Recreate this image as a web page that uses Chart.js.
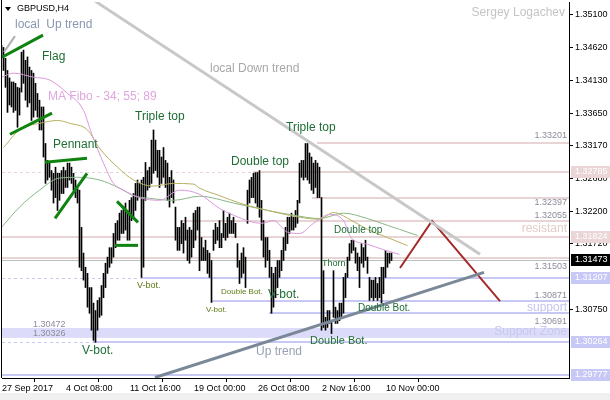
<!DOCTYPE html>
<html>
<head>
<meta charset="utf-8">
<script src="https://cdn.jsdelivr.net/npm/chart.js@4.4.1/dist/chart.umd.min.js"></script>
<style>
html, body { margin: 0; padding: 0; background: #fff; }
</style>
</head>
<body>
<canvas id="chart" width="610" height="400"></canvas>
<script>
// H4 bars, high / low
const highs = [
  1.3465,1.3462,1.3446,1.3428,1.3417,1.3411,1.3411,1.3409,1.3403,1.3402,
  1.3455,1.3458,1.3443,1.3448,1.3433,1.3428,1.3424,1.3409,1.3394,1.3384,
  1.3374,1.3374,1.3320,1.3295,1.3291,1.3280,1.3276,1.3285,1.3276,1.3276,
  1.3280,1.3285,1.3280,1.3291,1.3291,1.3285,1.3276,1.3266,1.3255,1.3251,
  1.3196,1.3158,1.3137,1.3128,1.3107,1.3107,1.3084,1.3073,1.3088,1.3092,
  1.3110,1.3128,1.3143,1.3152,1.3166,1.3166,1.3187,1.3202,1.3206,1.3217,
  1.3221,1.3226,1.3232,1.3221,1.3236,1.3240,1.3246,1.3261,1.3266,1.3261,
  1.3266,1.3270,1.3292,1.3280,1.3285,1.3325,1.3340,1.3325,1.3310,1.3310,
  1.3300,1.3314,1.3295,1.3291,1.3270,1.3280,1.3266,1.3226,1.3196,1.3196,
  1.3206,1.3202,1.3211,1.3192,1.3196,1.3192,1.3217,1.3221,1.3226,1.3226,
  1.3181,1.3166,1.3177,1.3162,1.3158,1.3147,1.3192,1.3202,1.3196,1.3206,
  1.3187,1.3221,1.3202,1.3211,1.3217,1.3206,1.3211,1.3202,1.3172,1.3147,
  1.3158,1.3166,1.3152,1.3251,1.3266,1.3270,1.3276,1.3277,1.3277,1.3280,
  1.3236,1.3206,1.3181,1.3181,1.3162,1.3137,1.3128,1.3137,1.3147,1.3147,
  1.3162,1.3181,1.3196,1.3211,1.3211,1.3217,1.3211,1.3221,1.3236,1.3291,
  1.3295,1.3295,1.3320,1.3320,1.3306,1.3300,1.3291,1.3295,1.3291,1.3285,
  1.3240,1.3132,1.3063,1.3073,1.3073,1.3058,1.3132,1.3078,1.3073,1.3084,
  1.3084,1.3122,1.3128,1.3152,1.3172,1.3177,1.3177,1.3166,1.3158,1.3152,
  1.3172,1.3166,1.3177,1.3152,1.3122,1.3118,1.3118,1.3122,1.3113,1.3122,
  1.3137,1.3137,1.3162,1.3158,1.3158,1.3158
];
const lows = [
  1.3448,1.3428,1.3403,1.3366,1.3377,1.3374,1.3366,1.3369,1.3344,1.3362,
  1.3396,1.3409,1.3384,1.3374,1.3380,1.3354,1.3359,1.3369,1.3359,1.3340,
  1.3340,1.3300,1.3261,1.3266,1.3270,1.3251,1.3232,1.3240,1.3221,1.3236,
  1.3246,1.3246,1.3255,1.3255,1.3266,1.3261,1.3251,1.3240,1.3232,1.3137,
  1.3132,1.3118,1.3107,1.3078,1.3069,1.3044,1.3029,1.3026,1.3044,1.3063,
  1.3066,1.3092,1.3107,1.3128,1.3137,1.3143,1.3152,1.3166,1.3177,1.3177,
  1.3187,1.3187,1.3192,1.3177,1.3177,1.3206,1.3211,1.3221,1.3236,1.3240,
  1.3122,1.3137,1.3236,1.3251,1.3255,1.3261,1.3276,1.3280,1.3270,1.3255,
  1.3261,1.3270,1.3255,1.3236,1.3226,1.3240,1.3232,1.3177,1.3162,1.3162,
  1.3172,1.3158,1.3177,1.3147,1.3143,1.3152,1.3166,1.3177,1.3192,1.3132,
  1.3147,1.3147,1.3147,1.3128,1.3122,1.3085,1.3162,1.3172,1.3177,1.3166,
  1.3166,1.3181,1.3177,1.3181,1.3187,1.3187,1.3187,1.3181,1.3137,1.3113,
  1.3122,1.3128,1.3107,1.3202,1.3232,1.3240,1.3240,1.3232,1.3226,1.3211,
  1.3177,1.3152,1.3137,1.3147,1.3122,1.3069,1.3078,1.3092,1.3107,1.3122,
  1.3132,1.3147,1.3162,1.3172,1.3187,1.3192,1.3192,1.3196,1.3202,1.3232,
  1.3270,1.3266,1.3270,1.3266,1.3261,1.3251,1.3246,1.3255,1.3240,1.3240,
  1.3044,1.3048,1.3044,1.3048,1.3054,1.3039,1.3063,1.3054,1.3054,1.3058,
  1.3063,1.3069,1.3092,1.3122,1.3147,1.3158,1.3162,1.3143,1.3132,1.3107,
  1.3143,1.3137,1.3147,1.3128,1.3088,1.3092,1.3088,1.3092,1.3088,1.3092,
  1.3084,1.3098,1.3122,1.3137,1.3143,1.3147
];

// moving averages (MA Fibo 34; 55; 89) as [bar, price]
const ma34 = [[0,1.3418],[6,1.3424],[16,1.3418],[24,1.3414],[33,1.3394],[41,1.3369],[45,1.3335],
  [51,1.3291],[56,1.3261],[61,1.3251],[69,1.3240],[79,1.3236],[89,1.3251],[99,1.3245],[109,1.3224],
  [116,1.3214],[124,1.3205],[130,1.3202],[136,1.3206],[143,1.3189],[149,1.3187],[156,1.3202],
  [164,1.3215],[171,1.3206],[175,1.3180],[183,1.3171],[191,1.3163],[199,1.3156]];
const ma55 = [[1,1.3314],[9,1.3340],[21,1.3351],[28,1.3354],[34,1.3350],[43,1.3340],[49,1.3313],
  [58,1.3285],[66,1.3266],[76,1.3257],[86,1.3261],[96,1.3260],[99,1.3254],[109,1.3243],[119,1.3232],
  [129,1.3224],[139,1.3217],[149,1.3211],[159,1.3208],[166,1.3218],[174,1.3208],[183,1.3193],
  [193,1.3181],[203,1.3169]];
const ma89 = [[0,1.3196],[9,1.3226],[19,1.3251],[29,1.3269],[38,1.3270],[49,1.3266],[59,1.3254],
  [66,1.3243],[74,1.3239],[86,1.3236],[99,1.3242],[116,1.3232],[133,1.3221],[146,1.3214],
  [159,1.3209],[171,1.3217],[183,1.3209],[193,1.3199],[199,1.3193],[208,1.3184]];

// drawn objects, [bar, price]
const downTrend = [[46.75,1.35305],[239.25,1.31561]];
const upTrend = [[76.75,1.29740],[241.25,1.31294]];
const localUp = [[1.25,1.34550],[6.75,1.34787]];
const flagTop = [[0.25,1.34476],[20.75,1.34802]];
const flagBottom = [[4.25,1.33337],[25.25,1.33648]];
const pennantTop = [[21.75,1.32922],[42.75,1.32982]];
const pennantBottom = [[26.75,1.32094],[42.75,1.32760]];
const flagDown = [[57.75,1.32345],[68.25,1.32034]];
const flagBase = [[56.75,1.31694],[68.25,1.31694]];
const forecast = [[199.25,1.31360],[215.25,1.32055],[249.25,1.30871]];

// horizontal levels: price and first bar of the solid part
const resistLevels = [1.33201, 1.32785, 1.32397, 1.32055, 1.31824, 1.31503];
const resistFrom = [157.75, 125.75, 155.25, 90.25, 0, 0];
const supportLevels = [1.31207, 1.30871, 1.30691, 1.30264, 1.29777];
const supportFrom = [69.75, 104.75, 133.75, 45.75, 0];
const dashedLevels = [1.32785, 1.31207, 1.30264];
const zoneTop = 1.30472, zoneBottom = 1.30326;
const bid = 1.31473;
const levelTexts = [1.33201, 1.32397, 1.32055, 1.31503, 1.30871, 1.30691];

const timeLabels = ['27 Sep 2017','4 Oct 08:00','11 Oct 16:00','19 Oct 00:00','26 Oct 08:00','2 Nov 16:00','10 Nov 00:00'];
const timeTickAt = [0.25, 32.25, 64.25, 96.25, 128.25, 160.25, 192.25];
const priceTicks = [1.35100, 1.34620, 1.34130, 1.33650, 1.33170, 1.32680, 1.32200, 1.31720, 1.30750];

const FONT = '"Liberation Sans", Arial, sans-serif';
const GREEN = '#1f6e36';
const PINK = '#e8d4d4';
const BLUE = '#c8c8f4';

function pts(arr) { return arr.map(p => ({x: p[0], y: p[1]})); }
function seg(arr, color, w) {
  return {type: 'line', data: pts(arr), borderColor: color, borderWidth: w, pointRadius: 0, order: 1, tension: 0};
}
function ma(arr, color) {
  return {type: 'line', data: pts(arr), borderColor: color, borderWidth: 1, pointRadius: 0, order: 2, cubicInterpolationMode: 'monotone'};
}

const mt4 = {
  id: 'mt4',
  beforeDraw(chart) {
    const c = chart.ctx;
    c.save();
    c.fillStyle = '#fff';
    c.fillRect(0, 0, 610, 400);
    c.fillStyle = '#f0f0f0';
    c.fillRect(0, 393, 610, 7);
    c.restore();
  },
  beforeDatasetsDraw(chart) {
    const c = chart.ctx, xs = chart.scales.x, ys = chart.scales.y, a = chart.chartArea;
    c.save();
    c.beginPath(); c.rect(a.left, a.top, a.right - a.left, a.bottom - a.top); c.clip();
    // support zone
    const zt = ys.getPixelForValue(zoneTop), zb = ys.getPixelForValue(zoneBottom);
    c.fillStyle = '#dcdcfa';
    c.fillRect(a.left, zt, a.right - a.left, zb - zt);
    function hl(price, from, color, dashed) {
      const y = Math.round(ys.getPixelForValue(price));
      c.strokeStyle = color;
      if (dashed) {
        c.lineWidth = 1; c.setLineDash([3, 3]);
        c.beginPath(); c.moveTo(a.left, y + 0.5); c.lineTo(a.right, y + 0.5); c.stroke();
        c.setLineDash([]);
      }
      c.lineWidth = 2;
      const x0 = Math.max(a.left, xs.getPixelForValue(from));
      c.beginPath(); c.moveTo(x0, y); c.lineTo(a.right, y); c.stroke();
    }
    resistLevels.forEach((p, i) => hl(p, resistFrom[i], PINK, dashedLevels.includes(p)));
    supportLevels.forEach((p, i) => hl(p, supportFrom[i], BLUE, dashedLevels.includes(p)));
    const by = Math.round(ys.getPixelForValue(bid)) + 0.5;
    c.strokeStyle = '#c0c0c0'; c.lineWidth = 1;
    c.beginPath(); c.moveTo(a.left, by); c.lineTo(a.right, by); c.stroke();
    c.restore();
  },
  afterDatasetsDraw(chart) {
    const c = chart.ctx, ys = chart.scales.y;
    c.save();
    c.textBaseline = 'middle';
    const notes = [
      ['local  Up trend', 15, 25, 12, '#8898b0'],
      ['Flag', 42, 57, 12, GREEN],
      ['MA Fibo - 34; 55; 89', 48, 97, 12, '#e0a6e0'],
      ['Pennant', 53, 145, 12, GREEN],
      ['Triple top', 135, 117, 12, GREEN],
      ['local Down trend', 210, 69, 12, '#a8a8a8'],
      ['Double top', 231, 162, 12, GREEN],
      ['Triple top', 286, 128, 12, GREEN],
      ['Double top', 334, 230, 10, GREEN],
      ['Thorn', 322, 264, 9, GREEN],
      ['V-bot.', 137, 286, 9, '#5e7a12'],
      ['Double Bot.', 221, 292, 8, '#5e7a12'],
      ['V-bot.', 206, 310, 8, '#5e7a12'],
      ['V-bot.', 268, 295, 12, GREEN],
      ['V-bot.', 82, 351, 12, GREEN],
      ['Double Bot.', 310, 341, 11, GREEN],
      ['Double Bot.', 358, 308, 10, GREEN],
      ['Up trend', 256, 352, 12, '#9aa0b4'],
      ['1.30472', 33, 325, 9, '#8c8c9c'],
      ['1.30326', 33, 334, 9, '#8c8c9c']
    ];
    notes.forEach(n => {
      c.font = n[3] + 'px ' + FONT;
      c.fillStyle = n[4];
      c.fillText(n[0], n[1], n[2]);
    });
    c.textAlign = 'right';
    c.font = '12px ' + FONT;
    c.fillStyle = '#c4c4c4'; c.fillText('Sergey Logachev', 565, 13);
    c.fillStyle = '#e4cccc'; c.fillText('resistant', 567, 229);
    c.fillStyle = '#c4c4f0'; c.fillText('support', 567, 308);
    c.fillStyle = '#c8c8f0'; c.fillText('Support Zone', 567, 332);
    // prices of the levels, above or below their line
    const off = {1.33201: -8, 1.32397: 5, 1.32055: -5, 1.31503: 8, 1.30871: -6, 1.30691: 8};
    c.font = '9px ' + FONT;
    c.fillStyle = '#8c8c9c';
    levelTexts.forEach(p => {
      c.fillText(p.toFixed(5), 567, ys.getPixelForValue(p) + off[p]);
    });
    // title
    c.textAlign = 'left';
    c.fillStyle = '#000';
    c.beginPath(); c.moveTo(5, 7); c.lineTo(11, 7); c.lineTo(8, 11); c.closePath(); c.fill();
    c.font = '9px ' + FONT;
    c.fillText('GBPUSD,H4', 17, 9);
    c.restore();
  },
  afterDraw(chart) {
    const c = chart.ctx, ys = chart.scales.y, a = chart.chartArea;
    c.save();
    c.strokeStyle = '#000'; c.lineWidth = 1;
    c.beginPath(); c.moveTo(1.5, 0); c.lineTo(1.5, a.bottom); c.stroke();
    c.font = '9px ' + FONT;
    c.textBaseline = 'middle';
    function tag(p, bg) {
      const y = Math.round(ys.getPixelForValue(p));
      c.fillStyle = bg;
      c.fillRect(a.right + 2, y - 6, 40, 12);
      c.fillStyle = '#fff';
      c.fillText(p.toFixed(5), a.right + 6, y);
    }
    tag(1.32785, '#ead6d6');
    tag(1.31824, '#ead6d6');
    [1.31207, 1.30264, 1.29777].forEach(p => tag(p, '#c8c8f6'));
    tag(bid, '#000');
    c.restore();
  }
};

new Chart(document.getElementById('chart'), {
  type: 'bar',
  data: {
    datasets: [
      seg(downTrend, '#c8c8c8', 3),
      seg(upTrend, '#7a8898', 3),
      seg(localUp, '#b0b0b0', 2),
      seg(flagTop, '#0f820f', 3),
      seg(flagBottom, '#0f820f', 3),
      seg(pennantTop, '#0f820f', 3),
      seg(pennantBottom, '#0f820f', 3),
      seg(flagDown, '#0f820f', 3),
      seg(flagBase, '#0f820f', 3),
      seg(forecast, '#a52a2a', 2),
      ma(ma34, '#dc98dc'),
      ma(ma55, '#b8b060'),
      ma(ma89, '#88b888'),
      {
        type: 'bar',
        data: highs.map((h, i) => ({x: i, y: [lows[i], h]})),
        backgroundColor: '#000',
        borderWidth: 0,
        barThickness: 1,
        grouped: false,
        order: 3
      }
    ]
  },
  options: {
    responsive: false,
    animation: false,
    devicePixelRatio: 1,
    layout: {padding: {left: 2, top: 2, right: 0, bottom: 0}},
    plugins: {legend: {display: false}, tooltip: {enabled: false}},
    scales: {
      x: {
        type: 'linear', min: 0.25, max: 283.75, offset: false,
        grid: {display: true, drawOnChartArea: false, drawTicks: true, tickLength: 4, color: '#000'},
        border: {display: true, color: '#000'},
        afterBuildTicks: s => { s.ticks = timeTickAt.map(v => ({value: v})); },
        ticks: {
          autoSkip: false, maxRotation: 0, align: 'start', padding: 1, color: '#000',
          font: {family: FONT, size: 9},
          callback: (v, i) => timeLabels[i]
        },
        afterFit: s => { s.height = 22; s.paddingLeft = 0; s.paddingRight = 0; }
      },
      y: {
        type: 'linear', position: 'right', min: 1.29733, max: 1.35292,
        grid: {display: true, drawOnChartArea: false, drawTicks: true, tickLength: 4, color: '#000'},
        border: {display: true, color: '#000'},
        afterBuildTicks: s => { s.ticks = priceTicks.map(v => ({value: v})); },
        ticks: {
          padding: 2, color: '#000', font: {family: FONT, size: 9},
          callback: v => Number(v).toFixed(5)
        },
        afterFit: s => { s.width = 41; s.paddingTop = 0; s.paddingBottom = 0; }
      }
    }
  },
  plugins: [mt4]
});
</script>
</body>
</html>
